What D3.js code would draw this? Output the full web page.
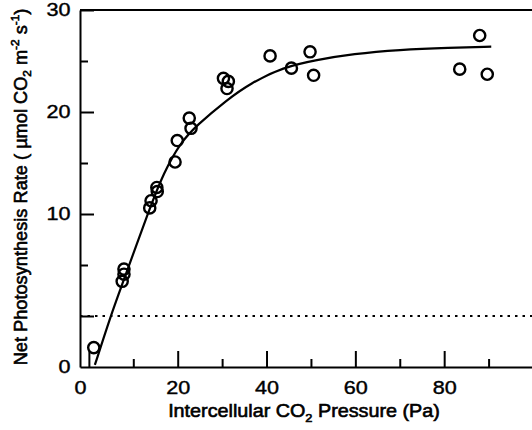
<!DOCTYPE html>
<html>
<head>
<meta charset="utf-8">
<script src="https://cdn.jsdelivr.net/npm/d3@7"></script>
<style>
    body { margin: 0; background: #fff; }
    svg text { font-family: "Liberation Sans", Arial, Helvetica, sans-serif; fill: #000; }
    .tick line { stroke: #000; stroke-width: 2; }
    .domain { stroke: #000; stroke-width: 2; }
</style>
</head>
<body>
<div id="chart"></div>
<script>
// Observed points: intercellular CO2 (Pa) and net photosynthesis rate
const ciObs = [1.1, 7.9, 7.9, 7.5, 13.7, 14.0, 15.3, 15.4, 19.4, 19.9, 22.6, 23.0,
               30.3, 31.4, 31.1, 40.8, 45.6, 49.8, 50.6, 83.5, 88.0, 89.7];
const aObs  = [-3.1, 4.6, 4.1, 3.4, 10.6, 11.3, 12.6, 12.2, 15.1, 17.2, 19.4, 18.4,
               23.3, 23.0, 22.3, 25.5, 24.3, 25.9, 23.6, 24.2, 27.5, 23.7];

// Fitted response curve
const ciFit = [1.35, 4.9, 7.3, 13.8, 16.8, 20.6, 24.3, 31.1, 36.3, 43.8, 51.2, 59.5, 69.9, 81.2, 90.6];
const aFit  = [-4.8, 0.0, 2.85, 10.7, 14.0, 17.0, 18.7, 21.2, 22.8, 24.4, 25.1, 25.7, 26.1, 26.3, 26.4];

// Axis ticks and labels (the "0" labels sit at the axis corner)
const xMajorTicks = [0, 20, 40, 60, 80];
const xMinorTicks = [10, 30, 50, 70, 90];
const xLabelValues = [-2, 20, 40, 60, 80];
const xLabelText = ['0', '20', '40', '60', '80'];
const yMajorTicks = [0, 10, 20, 30];
const yMinorTicks = [5, 15, 25];
const yLabelValues = [-5, 10, 20, 30];
const yLabelText = ['0', '10', '20', '30'];
const zeroLine = 0;

const config = {
    containerWidth: 532,
    containerHeight: 430,
    margin: {top: 10, right: -1, bottom: 63, left: 80}
};
const width = config.containerWidth - config.margin.left - config.margin.right;
const height = config.containerHeight - config.margin.top - config.margin.bottom;

const svg = d3.select('#chart').append('svg')
    .attr('width', config.containerWidth)
    .attr('height', config.containerHeight);

const chart = svg.append('g')
    .attr('transform', `translate(${config.margin.left},${config.margin.top})`);

const xScale = d3.scaleLinear().domain([-2, 100]).range([0, width]);
const yScale = d3.scaleLinear().domain([-5, 30]).range([height, 0]);

// Ticks point inwards; minor ones are shorter
chart.append('g')
    .attr('transform', `translate(0,${height})`)
    .call(d3.axisBottom(xScale).tickValues(xMinorTicks).tickSize(-8).tickFormat(''))
    .call(g => g.select('.domain').remove());
chart.append('g')
    .attr('transform', `translate(0,${height})`)
    .call(d3.axisBottom(xScale).tickValues(xMajorTicks).tickSizeInner(-16).tickSizeOuter(0).tickFormat(''));

chart.append('g')
    .call(d3.axisLeft(yScale).tickValues(yMinorTicks).tickSize(-8).tickFormat(''))
    .call(g => g.select('.domain').remove());
chart.append('g')
    .call(d3.axisLeft(yScale).tickValues(yMajorTicks).tickSizeInner(-14).tickSizeOuter(0).tickFormat(''));

// Top frame line
chart.append('line')
    .attr('x1', 0).attr('x2', width)
    .attr('y1', 0).attr('y2', 0)
    .attr('stroke', '#000').attr('stroke-width', 2);

// Tick labels
const xLabels = chart.append('g')
    .attr('transform', `translate(0,${height})`)
    .call(d3.axisBottom(xScale).tickValues(xLabelValues).tickSize(0).tickPadding(14)
        .tickFormat((d, i) => xLabelText[i]))
    .call(g => g.select('.domain').remove());
xLabels.selectAll('text')
    .attr('font-size', 18)
    .attr('font-family', null)
    .attr('stroke', '#000')
    .attr('stroke-width', 0.4)
    .attr('transform', 'scale(1.2,1)');

const yLabels = chart.append('g')
    .call(d3.axisLeft(yScale).tickValues(yLabelValues).tickSize(0)
        .tickFormat((d, i) => yLabelText[i]))
    .call(g => g.select('.domain').remove());
yLabels.selectAll('text')
    .attr('font-size', 18)
    .attr('font-family', null)
    .attr('stroke', '#000')
    .attr('stroke-width', 0.4)
    .attr('x', -9.5 / 1.2)
    .attr('transform', 'scale(1.2,1)');

// Dotted zero line
chart.append('line')
    .attr('x1', xScale(-2)).attr('x2', xScale(100))
    .attr('y1', yScale(zeroLine)).attr('y2', yScale(zeroLine))
    .attr('stroke', '#000')
    .attr('stroke-width', 2)
    .attr('stroke-dasharray', '2.5,5');

// Fitted curve
const fitData = ciFit.map((c, i) => ({ci: c, a: aFit[i]}));
chart.append('path')
    .datum(fitData)
    .attr('fill', 'none')
    .attr('stroke', '#000')
    .attr('stroke-width', 2.2)
    .attr('d', d3.line()
        .x(d => xScale(d.ci))
        .y(d => yScale(d.a))
        .curve(d3.curveBasis));

// Observed points as open circles
const obsData = ciObs.map((c, i) => ({ci: c, a: aObs[i]}));
chart.selectAll('.obs')
    .data(obsData)
    .join('circle')
    .attr('class', 'obs')
    .attr('cx', d => xScale(d.ci))
    .attr('cy', d => yScale(d.a))
    .attr('r', 5.6)
    .attr('fill', 'none')
    .attr('stroke', '#000')
    .attr('stroke-width', 2.4);

// Axis titles, stretched to the width they take in the figure
function addTitle(parts, size) {
    const t = svg.append('text')
        .attr('font-size', size)
        .attr('text-anchor', 'middle')
        .attr('stroke', '#000')
        .attr('stroke-width', 0.6);
    parts.forEach(p => {
        const ts = t.append('tspan').text(p.s);
        if (p.sub) ts.attr('font-size', size * 0.65).attr('dy', size * 0.25);
        if (p.sup) ts.attr('font-size', size * 0.65).attr('dy', -size * 0.4);
        if (p.back) ts.attr('dy', p.back * size);
    });
    return t;
}

const xTitle = addTitle([
    {s: 'Intercellular CO'},
    {s: '2', sub: true},
    {s: ' Pressure (Pa)', back: -0.25}
], 18);
const xw = xTitle.node().getBBox().width;
xTitle.attr('transform', `translate(304,417) scale(${272 / xw},1)`);

const yTitle = addTitle([
    {s: 'Net Photosynthesis Rate ( \u00b5mol CO'},
    {s: '2', sub: true},
    {s: ' m', back: -0.25},
    {s: '-2', sup: true},
    {s: ' s', back: 0.4},
    {s: '-1', sup: true},
    {s: ')', back: 0.4}
], 18);
const yw = yTitle.node().getBBox().width;
yTitle.attr('transform', `translate(26.5,187) rotate(-90) scale(${357 / yw},1)`);
</script>
</body>
</html>
